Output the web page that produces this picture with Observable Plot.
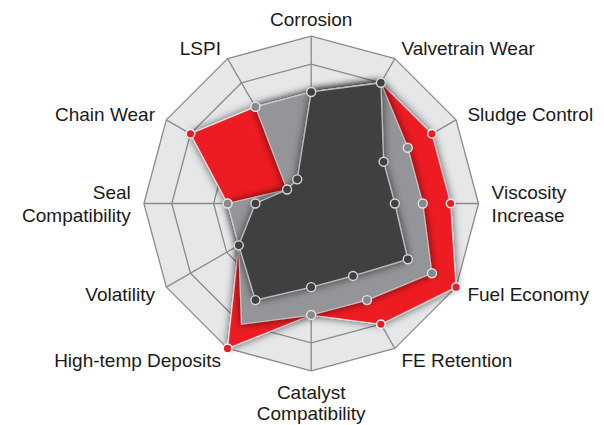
<!DOCTYPE html>
<html><head><meta charset="utf-8">
<script src="https://cdn.jsdelivr.net/npm/d3@7"></script>
<script src="https://cdn.jsdelivr.net/npm/@observablehq/plot@0.6"></script>
<style>
html,body{margin:0;padding:0;background:#fff;}
#chart svg{display:block;}
</style></head><body><div id="chart"></div>
<script>
// ---- data ----
const axes = ["Corrosion", "Valvetrain Wear", "Sludge Control", "Viscosity\nIncrease", "Fuel Economy", "FE Retention",
  "Catalyst\nCompatibility", "High-temp Deposits", "Volatility", "Seal\nCompatibility", "Chain Wear", "LSPI"];
const redValues  = [4, 5, 5, 5, 6, 5, 4, 6, 3, 3, 5, 4];
const grayValues = [4, 5, 4, 4, 5, 4, 4, 5, 3, 3, 1, 4];
const darkValues = [4, 5, 3, 3, 4, 3, 3, 4, 3, 2, 1, 1];
const ringLevels = [3.5, 5, 6];
const maxLevel = 6;

// ---- geometry helpers ----
const n = axes.length;
const ang = i => 2 * Math.PI * i / n;
const px = (i, v) => v * Math.sin(ang(i));
const py = (i, v) => -v * Math.cos(ang(i));
const poly = (values, series) => values.map((v, i) => ({series, axis: axes[i], v, x: px(i, v), y: py(i, v)}));

const red = poly(redValues, "red");
const gray = poly(grayValues, "gray");
const dark = poly(darkValues, "dark");
const rings = ringLevels.flatMap(l => axes.map((a, i) => ({level: l, x: px(i, l), y: py(i, l)})));
const spokes = axes.map((a, i) => ({x1: 0, y1: 0, x2: px(i, maxLevel), y2: py(i, maxLevel)}));
const labels = axes.map((a, i) => {
  const s = Math.sin(ang(i)), c = Math.cos(ang(i));
  const side = s > 0.1 ? "right" : s < -0.1 ? "left" : c > 0 ? "top" : "bottom";
  const r = side === "top" ? 6.38 : side === "bottom" ? 6.45 : 6.47;
  return {text: a, x: px(i, r), y: py(i, r), side};
});

const lineColor = "#8b8b8b";
const textOpts = {x: "x", y: "y", text: "text", fontSize: 19, lineHeight: 1.19, fill: "#1a1a1a"};

const svg = Plot.plot({
  width: 604, height: 425, margin: 0,
  style: {fontFamily: "'Liberation Sans', Arial, Helvetica, sans-serif", background: "#fff"},
  x: {domain: [-maxLevel, maxLevel], range: [143.4, 478], axis: null},
  y: {domain: [-maxLevel, maxLevel], range: [35.7, 370.3], axis: null},
  marks: [
    Plot.line(rings.filter(d => d.level === maxLevel), {x: "x", y: "y", curve: "linear-closed", fill: "#e6e7e8", stroke: "none"}),
    Plot.line(rings, {x: "x", y: "y", z: "level", curve: "linear-closed", fill: "none", stroke: lineColor, strokeWidth: 1.3}),
    Plot.link(spokes, {x1: "x1", y1: "y1", x2: "x2", y2: "y2", stroke: lineColor, strokeWidth: 1.3}),

    Plot.line(red, {x: "x", y: "y", curve: "linear-closed", fill: "#ed1c24", stroke: "#ffffff", strokeOpacity: 0.7, strokeWidth: 1.2, ariaDescription: "shadow"}),
    Plot.dot(red, {x: "x", y: "y", r: 4.3, fill: "#ed1c24", stroke: "#ffffff", strokeWidth: 1.4}),

    Plot.line(gray, {x: "x", y: "y", curve: "linear-closed", fill: "#939598", stroke: "#d4d4d4", strokeOpacity: 0.8, strokeWidth: 1.2, ariaDescription: "shadow"}),
    Plot.dot(gray, {x: "x", y: "y", r: 4.5, fill: "#88898c", stroke: "#e2e2e2", strokeWidth: 1.4,
      filter: d => d.axis !== "High-temp Deposits"}),

    Plot.line(dark, {x: "x", y: "y", curve: "linear-closed", fill: "#414042", stroke: "#bdbdbd", strokeWidth: 1.3, ariaDescription: "shadow"}),
    Plot.dot(dark, {x: "x", y: "y", r: 4.5, fill: "#414042", stroke: "#d6d6d6", strokeWidth: 1.4}),

    Plot.text(labels.filter(d => d.side === "right"), {...textOpts, textAnchor: "start", lineAnchor: "middle"}),
    Plot.text(labels.filter(d => d.side === "left"), {...textOpts, textAnchor: "end", lineAnchor: "middle"}),
    Plot.text(labels.filter(d => d.side === "top"), {...textOpts, textAnchor: "middle", lineAnchor: "bottom"}),
    Plot.text(labels.filter(d => d.side === "bottom"), {...textOpts, lineHeight: 1.14, textAnchor: "middle", lineAnchor: "top"})
  ]
});

// soft shadow around the filled polygons
const ns = "http://www.w3.org/2000/svg";
const defs = document.createElementNS(ns, "defs");
defs.innerHTML = '<filter id="polyShadow" x="-20%" y="-20%" width="140%" height="140%">' +
  '<feDropShadow dx="0" dy="0" stdDeviation="4.5" flood-color="#000" flood-opacity="0.65"/></filter>';
svg.insertBefore(defs, svg.firstChild);
svg.querySelectorAll('[aria-description="shadow"]').forEach(g => g.setAttribute("filter", "url(#polyShadow)"));

document.getElementById("chart").appendChild(svg);
</script>
</body></html>
